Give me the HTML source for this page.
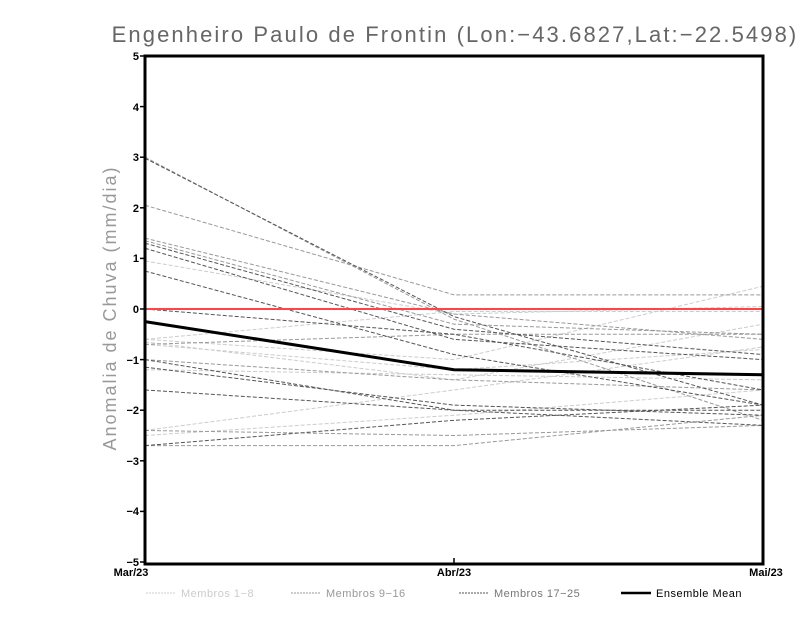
<!DOCTYPE html>
<html><head><style>body{margin:0;background:#fff}</style></head><body>
<svg width="800" height="618" xmlns="http://www.w3.org/2000/svg" font-family="Liberation Sans, sans-serif">
<rect width="800" height="618" fill="#fff"/>
<text x="455" y="42" text-anchor="middle" font-size="22" fill="#666" letter-spacing="2.1">Engenheiro Paulo de Frontin (Lon:−43.6827,Lat:−22.5498)</text>
<text transform="translate(116,308) rotate(-90)" text-anchor="middle" font-size="18" fill="#999" letter-spacing="2">Anomalia de Chuva (mm/dia)</text>
<g transform="translate(0,309) scale(1,-50.6)" fill="none" stroke-dasharray="4,2">
<g stroke="#ccc">
<polyline vector-effect="non-scaling-stroke" points="145,0.95 454,-0.1 763,0.05"/>
<polyline vector-effect="non-scaling-stroke" points="145,-0.6 454,-1.0 763,0.45"/>
<polyline vector-effect="non-scaling-stroke" points="145,-0.65 454,-1.4 763,-0.3"/>
<polyline vector-effect="non-scaling-stroke" points="145,-0.7 454,-1.2 763,-0.8"/>
<polyline vector-effect="non-scaling-stroke" points="145,-2.4 454,-1.6 763,-0.75"/>
<polyline vector-effect="non-scaling-stroke" points="145,-2.5 454,-2.1 763,-1.6"/>
<polyline vector-effect="non-scaling-stroke" points="145,-1.2 454,-1.3 763,-1.4"/>
<polyline vector-effect="non-scaling-stroke" points="145,-0.6 454,-0.05 763,-0.05"/>
</g>
<g stroke="#999">
<polyline vector-effect="non-scaling-stroke" points="145,3.0 454,-0.2 763,-2.2"/>
<polyline vector-effect="non-scaling-stroke" points="145,2.05 454,0.28 763,0.28"/>
<polyline vector-effect="non-scaling-stroke" points="145,1.4 454,-0.1 763,-0.6"/>
<polyline vector-effect="non-scaling-stroke" points="145,1.35 454,-0.3 763,-0.5"/>
<polyline vector-effect="non-scaling-stroke" points="145,-0.7 454,-0.5 763,-0.5"/>
<polyline vector-effect="non-scaling-stroke" points="145,-2.4 454,-2.5 763,-2.3"/>
<polyline vector-effect="non-scaling-stroke" points="145,-2.7 454,-2.7 763,-2.1"/>
<polyline vector-effect="non-scaling-stroke" points="145,-1.0 454,-1.4 763,-1.6"/>
</g>
<g stroke="#555">
<polyline vector-effect="non-scaling-stroke" points="145,2.98 454,-0.15 763,-1.9"/>
<polyline vector-effect="non-scaling-stroke" points="145,1.3 454,-0.4 763,-0.9"/>
<polyline vector-effect="non-scaling-stroke" points="145,1.2 454,-0.6 763,-1.0"/>
<polyline vector-effect="non-scaling-stroke" points="145,0.75 454,-0.9 763,-1.9"/>
<polyline vector-effect="non-scaling-stroke" points="145,0 454,-0.5 763,-1.6"/>
<polyline vector-effect="non-scaling-stroke" points="145,-1.0 454,-2.0 763,-2.3"/>
<polyline vector-effect="non-scaling-stroke" points="145,-1.15 454,-1.9 763,-2.1"/>
<polyline vector-effect="non-scaling-stroke" points="145,-1.6 454,-2.0 763,-2.0"/>
<polyline vector-effect="non-scaling-stroke" points="145,-2.7 454,-2.2 763,-1.9"/>
</g>
</g>
<line x1="145" y1="309" x2="763" y2="309" stroke="#f44" stroke-width="2"/>
<polyline points="145,321.6 454,369.7 763,374.8" fill="none" stroke="#000" stroke-width="3"/>
<rect x="145" y="56" width="618" height="508" fill="none" stroke="#000" stroke-width="3"/>
<g stroke="#000" stroke-width="1.5">
<line x1="140" y1="56" x2="145" y2="56"/><line x1="140" y1="106.6" x2="145" y2="106.6"/><line x1="140" y1="157.2" x2="145" y2="157.2"/><line x1="140" y1="207.8" x2="145" y2="207.8"/><line x1="140" y1="258.4" x2="145" y2="258.4"/><line x1="140" y1="309" x2="145" y2="309"/><line x1="140" y1="359.6" x2="145" y2="359.6"/><line x1="140" y1="410.2" x2="145" y2="410.2"/><line x1="140" y1="460.8" x2="145" y2="460.8"/><line x1="140" y1="511.4" x2="145" y2="511.4"/><line x1="140" y1="562" x2="145" y2="562"/>
<line x1="454" y1="564" x2="454" y2="558"/>
</g>
<g font-size="11" font-weight="bold" text-anchor="end" fill="#000">
<text x="139" y="60">5</text><text x="139" y="111">4</text><text x="139" y="161">3</text><text x="139" y="212">2</text><text x="139" y="262">1</text><text x="139" y="313">0</text><text x="139" y="364">−1</text><text x="139" y="414">−2</text><text x="139" y="465">−3</text><text x="139" y="515">−4</text><text x="139" y="566">−5</text>
</g>
<g font-size="11" font-weight="bold" fill="#000" text-anchor="middle">
<text x="131" y="576">Mar/23</text><text x="454" y="576">Abr/23</text><text x="766" y="576">Mai/23</text>
</g>
<g font-size="11" letter-spacing="0.5">
<line x1="146" y1="593" x2="176" y2="593" stroke="#ccc" stroke-dasharray="2,1"/><text x="181" y="597" fill="#ccc">Membros 1−8</text>
<line x1="291" y1="593" x2="321" y2="593" stroke="#999" stroke-dasharray="2,1"/><text x="326" y="597" fill="#999">Membros 9−16</text>
<line x1="459" y1="593" x2="489" y2="593" stroke="#555" stroke-dasharray="2,1"/><text x="494" y="597" fill="#777">Membros 17−25</text>
<line x1="621" y1="593" x2="651" y2="593" stroke="#000" stroke-width="2.5"/><text x="656" y="597" fill="#000">Ensemble Mean</text>
</g>
</svg>
</body></html>
